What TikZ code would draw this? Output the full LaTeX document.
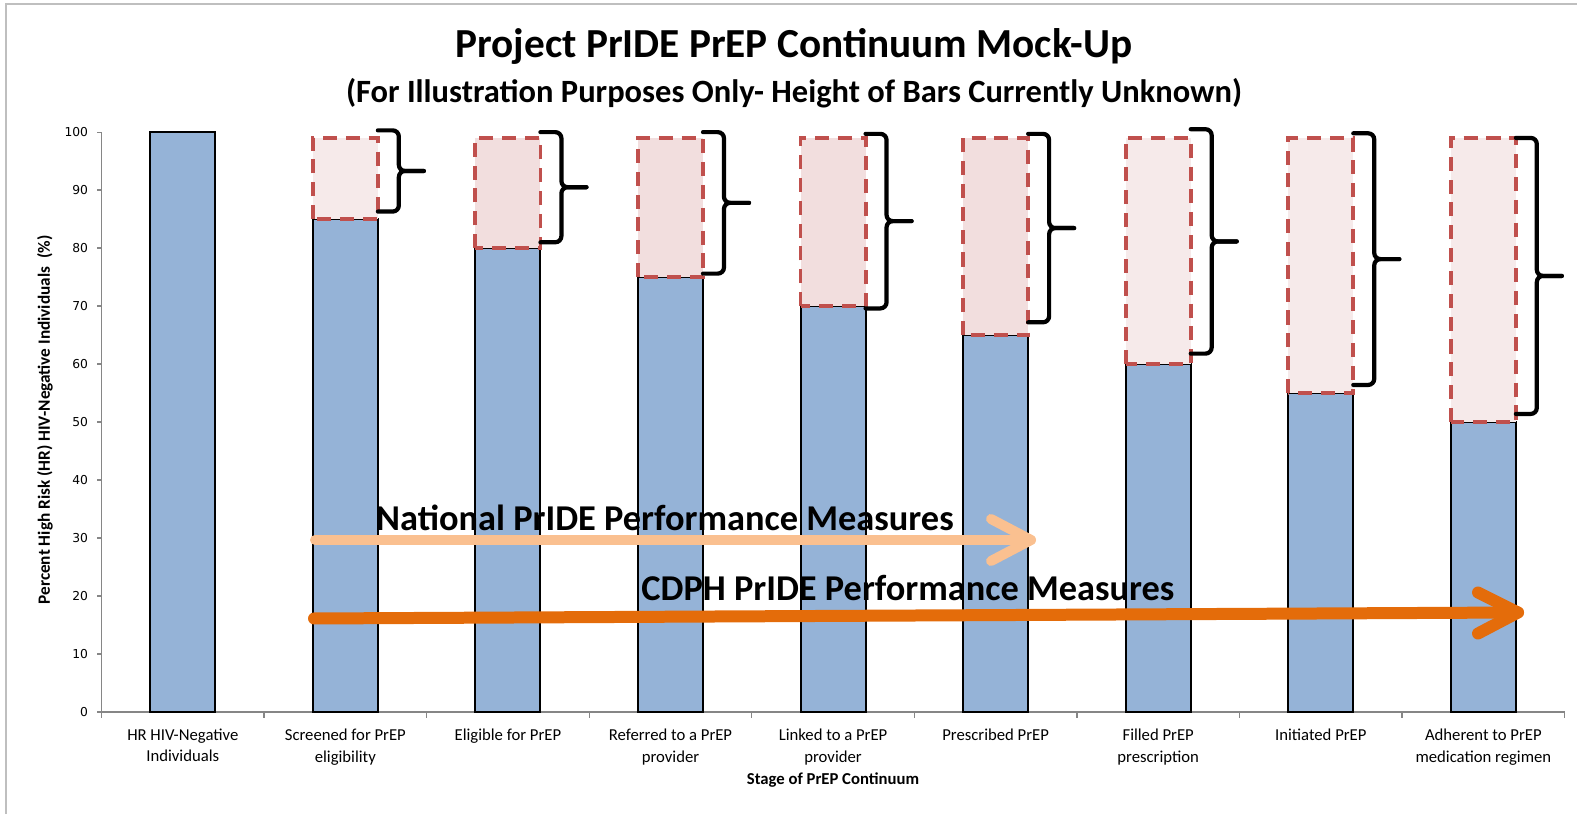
\documentclass[tikz,border=0pt]{standalone}
\usepackage{fontspec}
\setmainfont{Carlito}
\newfontfamily\tickfont{DejaVu Sans}
\usetikzlibrary{positioning}

\definecolor{barblue}{HTML}{95B3D7}
\definecolor{boxred}{HTML}{C0504D}
\definecolor{gaplight}{HTML}{F6EAEA}
\definecolor{gapdark}{HTML}{F2DEDE}
\definecolor{natorange}{HTML}{FAC090}
\definecolor{cdphorange}{HTML}{E46C0A}
\definecolor{axisgray}{HTML}{868686}
\definecolor{framegray}{HTML}{BFBFBF}

\begin{document}
\begin{tikzpicture}[
    x=0.02cm, y=0.02cm,
    every node/.style={
        inner sep=0pt,
        outer sep=0pt,
    },
    frame/.style={
        draw=framegray,
        line width=1.2pt,
    },
    axis/.style={
        draw=axisgray,
        line width=.7pt,
    },
    bar/.style={
        fill=barblue,
        draw=black,
        line width=1.2pt,
    },
    gap/.style={
        fill=#1,
        draw=boxred,
        line width=2.2pt,
        dash pattern=on 8pt off 5pt,
    },
    bracket/.style={
        draw=black,
        line width=2.4pt,
        rounded corners=3.5pt,
        line cap=round,
    },
    ticklabel/.style={
        font=\tickfont\fontsize{7}{8}\selectfont,
        anchor=east,
    },
    catlabel/.style={
        font=\fontsize{9.5}{12.5}\selectfont,
        align=center,
        anchor=north,
    },
    measure/.style={
        draw=#1,
        line cap=round,
        line join=round,
    },
    measurelabel/.style={
        font=\bfseries\fontsize{20.7}{24}\selectfont,
    }
]
    \useasboundingbox (0,0) rectangle (1577,814);
    \draw[frame] (6,0) -- (6,810) -- (1577,810);

    \node[font=\bfseries\fontsize{23.5}{28}\selectfont] (title) at (794,768) {Project PrIDE PrEP Continuum Mock-Up};
    \node[font=\bfseries\fontsize{18.5}{22}\selectfont] (subtitle) at (794,721) {(For Illustration Purposes Only- Height of Bars Currently Unknown)};
    \node[rotate=90, font=\bfseries\fontsize{9.8}{11}\selectfont] (ytitle) at (45,394) {Percent High Risk (HR) HIV-Negative Individuals~~(\%)};
    \node[font=\bfseries\fontsize{9.5}{11}\selectfont] (xtitle) at (833,34) {Stage of PrEP Continuum};

    \begin{scope}[shift={(101.5,102)}, x=3.252cm, y=0.116cm]
    % axes
    \draw[axis] (0,100) -- (0,0) -- (9,0);
    \foreach \y in {0,10,...,100}{
        \draw[axis] (0,\y) -- ++(-0.1cm,0cm);
        \node[ticklabel] (ytick-\y) at ([xshift=-0.27cm]0,\y) {\y};
    }
    \foreach \i in {0,...,9}{
        \draw[axis] (\i,0) -- ++(0cm,-0.12cm);
    }
    \foreach \lbl [count=\i] in {%
        HR HIV-Negative\\Individuals,
        Screened for PrEP\\eligibility,
        Eligible for PrEP,
        Referred to a PrEP\\provider,
        Linked to a PrEP\\provider,
        Prescribed PrEP,
        Filled PrEP\\prescription,
        Initiated PrEP,
        Adherent to PrEP\\medication regimen%no comma after
    }{
        \node[catlabel] (cat-\i) at ([yshift=-0.33cm]\i-0.5,0) {\lbl};
    }
    % bars
    \foreach \v [count=\i] in {100,85,80,75,70,65,60,55,50}{
        \draw[bar] (\i-0.7,0) rectangle (\i-0.3,\v);
    }
    \foreach \i/\v/\shade in {%
        2/85/gaplight,
        3/80/gapdark,
        4/75/gapdark,
        5/70/gapdark,
        6/65/gapdark,
        7/60/gaplight,
        8/55/gaplight,
        9/50/gaplight%no comma after
    }{
        \draw[gap=\shade] (\i-0.7,\v) rectangle (\i-0.3,99);
    }
    % braces
    \foreach \i/\t/\b in {%
        2/100.3/86.3,
        3/100/81,
        4/100/75.6,
        5/99.7/69.6,
        6/99.7/67.2,
        7/100.5/61.8,
        8/99.8/56.4,
        9/99/51.4%no comma after
    }{
        \draw[bracket] (\i-0.3,\t) -- (\i-0.171,\t) -- (\i-0.171,{(\t+\b)/2}) -- (\i-0.017,{(\t+\b)/2});
        \draw[bracket] (\i-0.3,\b) -- (\i-0.171,\b) -- (\i-0.171,{(\t+\b)/2}) -- (\i-0.017,{(\t+\b)/2});
    }
    \end{scope}

    % performance measure arrows
    \coordinate (nat-start) at (315,274);
    \coordinate (nat-end) at (1031,274);
    \coordinate (cdph-start) at (314,195.5);
    \coordinate (cdph-end) at (1518,201.5);
    \draw[measure=natorange, line width=0.2cm] (nat-start) -- (nat-end);
    \draw[measure=natorange, line width=0.2cm] ([shift={(-40,21)}]nat-end) -- (nat-end) -- ([shift={(-40,-21)}]nat-end);
    \draw[measure=cdphorange, line width=0.24cm] (cdph-start) -- (cdph-end);
    \draw[measure=cdphorange, line width=0.24cm] ([shift={(-40,20)}]cdph-end) -- (cdph-end) -- ([shift={(-40,-21)}]cdph-end);
    \node[measurelabel] (nat-label) at (665,296) {National PrIDE Performance Measures};
    \node[measurelabel] (cdph-label) at (908,226) {CDPH PrIDE Performance Measures};
\end{tikzpicture}
\end{document}
